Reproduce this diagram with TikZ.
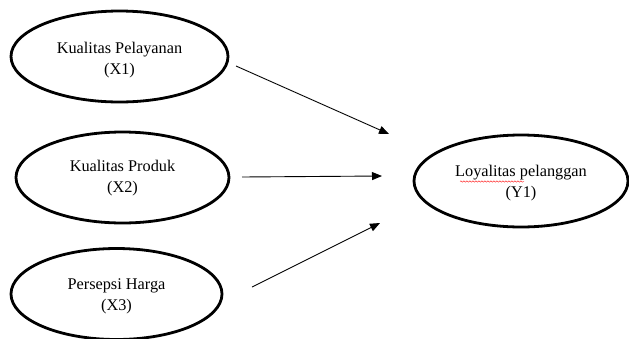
\documentclass[tikz,border=0pt]{standalone}
\usepackage{fontspec}
\setmainfont{Liberation Serif}
\usetikzlibrary{shapes.geometric,arrows.meta,decorations.pathmorphing}
\begin{document}
\begin{tikzpicture}[x=1pt,y=-1pt,
  var/.style={ellipse,draw,line width=2.8pt,inner sep=0pt},
  lbl/.style={align=center,inner sep=0pt,font=\fontsize{16.3}{21}\selectfont},
  link/.style={line width=0.9pt,-{Triangle[length=10pt,width=8pt]}}]
\useasboundingbox (0,0) rectangle (629,338);
\node[var,minimum width=217pt,minimum height=91pt] (x1) at (119.5,56.5) {};
\node[var,minimum width=213pt,minimum height=91pt] (x2) at (122.5,177.5) {};
\node[var,minimum width=211pt,minimum height=91pt] (x3) at (116.5,294) {};
\node[var,minimum width=214pt,minimum height=92pt] (y1) at (521,181) {};
\node[lbl] (t1) at ([yshift=-3.5pt]x1.center) {Kualitas Pelayanan\\(X1)};
\node[lbl] (t2) at ([yshift=-0.5pt]x2.center) {Kualitas Produk\\(X2)};
\node[lbl] (t3) at ([yshift=-2pt]x3.center) {Persepsi Harga\\(X3)};
\node[lbl] (ty) at ([yshift=-2pt]y1.center) {Loyalitas pelanggan\\(Y1)};
\coordinate (s1) at (236,66);
\coordinate (e1) at (389,134);
\coordinate (s2) at (242,177);
\coordinate (e2) at (382,176);
\coordinate (s3) at (252,287);
\coordinate (e3) at (380,223);
\draw[link] (s1) -- (e1);
\draw[link] (s2) -- (e2);
\draw[link] (s3) -- (e3);
\coordinate (w1) at (460,181.5);
\coordinate (w2) at (524,181.5);
\draw[red,line width=0.4pt,decorate,decoration={snake,amplitude=0.7pt,segment length=3pt}] (w1) -- (w2);
\end{tikzpicture}
\end{document}
